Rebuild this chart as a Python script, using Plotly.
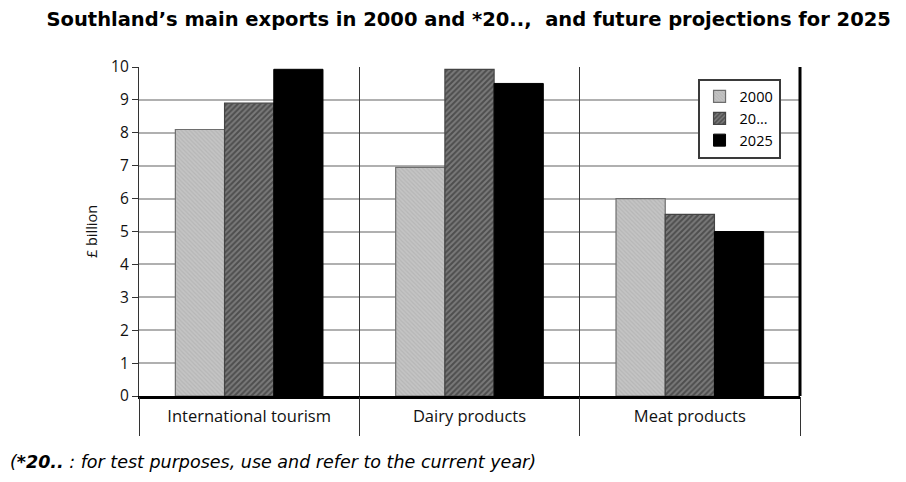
import plotly.graph_objects as go

# ==========================================================
# Data
# ==========================================================

categories = ["International tourism", "Dairy products", "Meat products"]

exports_2000 = [8.1, 6.95, 6.0]
exports_20xx = [8.9, 9.93, 5.52]
exports_2025 = [9.93, 9.5, 5.0]

y_ticks = list(range(0, 11))


# ==========================================================
# Bars
# ==========================================================

fig = go.Figure()

fig.add_trace(
    go.Bar(
        x=categories,
        y=exports_2000,
        name="2000",
        marker=dict(
            color="#bdbdbd",
            line=dict(color="#6e6e6e", width=1.2),
            pattern=dict(shape="\\", fgcolor="#a8a8a8", bgcolor="#c4c4c4",
                         size=3, solidity=0.4)
        )
    )
)

fig.add_trace(
    go.Bar(
        x=categories,
        y=exports_20xx,
        name="20...",
        marker=dict(
            color="#6a6a6a",
            line=dict(color="#444444", width=1.2),
            pattern=dict(shape="/", fgcolor="#222222", bgcolor="#7a7a7a",
                         size=4, solidity=0.5)
        )
    )
)

fig.add_trace(
    go.Bar(
        x=categories,
        y=exports_2025,
        name="2025",
        marker=dict(color="#000000", line=dict(color="#000000", width=1))
    )
)

# invisible trace so the divider axis exists
fig.add_trace(
    go.Scatter(
        x=[-0.5, 2.5],
        y=[0, 0],
        xaxis="x2",
        mode="lines",
        line=dict(width=0),
        showlegend=False,
        hoverinfo="skip"
    )
)


# ==========================================================
# Layout
# ==========================================================

axis_family = "Open Sans, Noto Sans, sans-serif"

fig.update_layout(
    width=898,
    height=474,
    margin=dict(l=131, r=106, t=59, b=86),
    paper_bgcolor="white",
    plot_bgcolor="white",
    barmode="group",
    bargap=0.33,
    bargroupgap=0,
    title=dict(
        text="Southland’s main exports in 2000 and *20..,  and future projections for 2025",
        font=dict(family="DejaVu Sans, sans-serif", size=19.5, color="#000000",
                  weight="bold"),
        x=0.513,
        xanchor="center",
        y=0.99,
        yanchor="top"
    ),
    legend=dict(
        x=0.845,
        y=0.965,
        xanchor="left",
        yanchor="top",
        bgcolor="white",
        bordercolor="#3a3a3a",
        borderwidth=2,
        font=dict(family=axis_family, size=14.5, color="#000000"),
        itemwidth=30,
        tracegroupgap=0
    ),
    xaxis=dict(
        type="category",
        showgrid=False,
        ticks="",
        showline=True,
        linecolor="#000000",
        linewidth=3,
        tickfont=dict(family=axis_family, size=16.5, color="#111111"),
        ticklabelstandoff=3,
        zeroline=False
    ),
    xaxis2=dict(
        overlaying="x",
        range=[-0.5, 2.5],
        tickvals=[-0.5, 0.5, 1.5, 2.5],
        showticklabels=False,
        ticks="outside",
        ticklen=39,
        tickwidth=1.2,
        tickcolor="#333333",
        showgrid=True,
        gridcolor="#333333",
        gridwidth=1.2,
        zeroline=False,
        side="bottom"
    ),
    yaxis=dict(
        range=[0, 10],
        tickvals=y_ticks,
        ticks="outside",
        ticklen=6,
        tickcolor="#333333",
        tickwidth=1.2,
        showgrid=True,
        gridcolor="#b0b0b0",
        gridwidth=1.5,
        showline=True,
        linecolor="#333333",
        linewidth=1.2,
        zeroline=False,
        tickfont=dict(family=axis_family, size=15.5, color="#111111"),
        title=dict(text="£ billion",
                   font=dict(family=axis_family, size=14.5, color="#111111"),
                   standoff=9)
    ),
    showlegend=True
)

# right border of the frame
fig.add_shape(
    type="line",
    xref="paper", yref="paper",
    x0=1, x1=1, y0=0, y1=1,
    line=dict(color="#000000", width=3)
)

# footnote
fig.add_annotation(
    text="(<b>*20..</b> : for test purposes, use and refer to the current year)",
    xref="paper", yref="paper",
    x=-0.198, y=-0.165,
    xanchor="left", yanchor="top",
    showarrow=False,
    font=dict(family="DejaVu Sans, sans-serif", size=17.5, color="#000000",
              style="italic")
)

fig.write_html("out.html")
